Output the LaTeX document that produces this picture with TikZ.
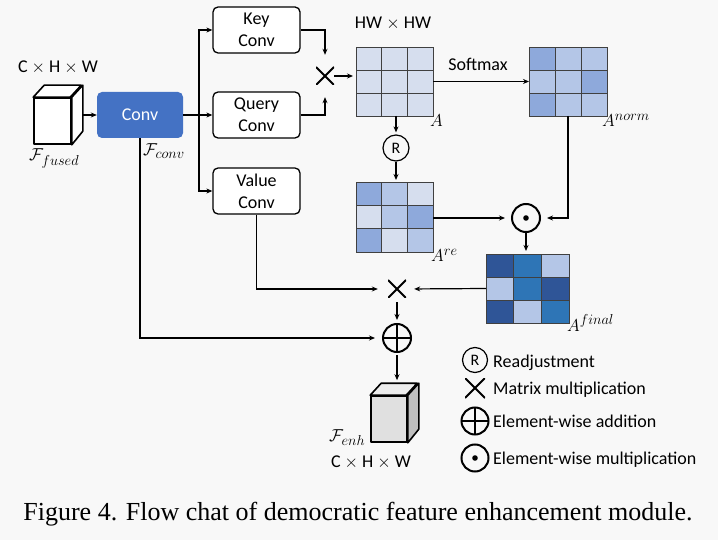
\documentclass[tikz,border=0pt]{standalone}
\usepackage{fontspec}
\setmainfont{Carlito}
\newfontfamily\capfont{Liberation Serif}
\DeclareMathSizes{17}{17}{13.5}{10}
\usetikzlibrary{arrows.meta,calc}
\definecolor{bgc}{HTML}{F8F8F8}
\definecolor{convblue}{HTML}{4472C4}
\definecolor{cL}{HTML}{D6DEEE}
\definecolor{cM}{HTML}{B4C6E7}
\definecolor{cD}{HTML}{8EA9DB}
\definecolor{fN}{HTML}{2F5597}
\definecolor{fB}{HTML}{2E75B6}
\definecolor{cellline}{HTML}{404040}
\newcommand\mymat[6]{%
  \node[minimum width=#4pt,minimum height=#5pt,inner sep=0pt,outer sep=0pt] (#1) at (#2,#3) {};
  \foreach \cc [count=\ii from 0] in {#6} {%
    \pgfmathtruncatemacro\mymr{\ii/3}%
    \pgfmathtruncatemacro\mymc{\ii-3*\mymr}%
    \filldraw[fill=\cc,draw=cellline,line width=0.9pt] ($(#1.north west)+(\mymc*#4/3,\mymr*#5/3)$) rectangle ++(#4/3,#5/3);
  }%
}
\begin{document}
\begin{tikzpicture}[x=1pt,y=-1pt,
  font=\fontsize{18}{22}\selectfont,
  box/.style={draw,rounded corners=5pt,minimum width=87pt,minimum height=46pt,line width=1.3pt,align=center,inner sep=0pt,fill=white},
  arr/.style={-{Stealth[length=6pt,width=5pt]},line width=1.2pt},
  ln/.style={line width=1.2pt},
  mlbl/.style={inner sep=0pt,anchor=base west,font=\fontsize{17}{20}\selectfont},
  mult/.style={minimum size=#1,inner sep=0pt,path picture={\draw[line width=1.8pt] (path picture bounding box.north west)--(path picture bounding box.south east) (path picture bounding box.north east)--(path picture bounding box.south west);}},
  oplusn/.style={circle,draw,line width=2pt,minimum size=#1,inner sep=0pt,path picture={\draw[line width=2pt] (path picture bounding box.north)--(path picture bounding box.south) (path picture bounding box.east)--(path picture bounding box.west);}},
  odotn/.style={circle,draw,line width=2pt,minimum size=#1,inner sep=0pt,path picture={\fill (path picture bounding box.center) circle (2.8pt);}},
  rnode/.style={circle,draw,line width=1.2pt,minimum size=#1,inner sep=0pt,font=\fontsize{16}{18}\selectfont},
  cube/.style={line width=1.6pt,line join=round}
]
\useasboundingbox (0,0) rectangle (718,540);
\fill[bgc] (0,0) rectangle (718,540);

% input cube
\node[draw,cube,fill=white,minimum width=37pt,minimum height=46pt,inner sep=0pt] (fused) at (52.5,121) {};
\filldraw[cube,fill=white] (fused.north west) -- ++(11,-12) -- ++(37,0) -- ++(-11,12) -- cycle;
\filldraw[cube,fill=white] (fused.north east) -- ++(11,-12) -- ++(0,46) -- (fused.south east) -- cycle;
\node (chw1) at (58,67) {C $\times$ H $\times$ W};
\node[mlbl] (ffused) at (29,161) {$\mathcal{F}_{fused}$};

% conv
\node[rounded corners=5pt,fill=convblue,minimum width=86pt,minimum height=46pt,text=white] (conv) at (140,115) {Conv};
\node[mlbl] (fconv) at (143,156) {$\mathcal{F}_{conv}$};
\draw[arr] ([xshift=11pt]conv.west -| fused.east) -- (conv.west);

% key/query/value
\node[box] (key) at (256.5,30) {Key\\Conv};
\node[box] (query) at (256.5,115) {Query\\Conv};
\node[box] (value) at (256.5,191) {Value\\Conv};
\coordinate (br) at (199,115);
\draw[ln] (conv.east) -- (br);
\draw[arr] (br) |- (key.west);
\draw[arr] (br) -- (query.west);
\draw[arr] (br) |- (value.west);

% first multiplication
\node[mult=18pt] (t1) at (325,76) {};
\draw[arr,shorten >=12pt] (key.east) -| (t1.north);
\draw[arr,shorten >=12pt] (query.east) -| (t1.south);

% matrices
\mymat{A}{394.5}{81.5}{77}{69}{cL,cL,cL,cL,cL,cL,cL,cL,cL}
\mymat{An}{568}{81.5}{78}{69}{cD,cM,cM,cM,cM,cD,cD,cM,cM}
\mymat{Ar}{394.5}{217}{77}{70}{cD,cM,cL,cL,cM,cD,cD,cL,cM}
\mymat{Af}{527.5}{288.5}{83}{69}{fN,fB,cM,cM,fB,fN,fN,cM,fB}
\node (hw) at (393,23) {HW $\times$ HW};
\node[mlbl] (Alab) at (430,127) {$A$};
\node[mlbl] (Anlab) at (602,127) {$A^{norm}$};
\node[mlbl] (Arlab) at (431,262) {$A^{re}$};
\node[mlbl] (Aflab) at (567,331) {$A^{final}$};

\draw[arr,shorten >=3pt] (t1.east) -- (t1.east -| A.west);
\draw[arr] (A.east) -- (An.west);
\node (soft) at (478,64) {Softmax};

\node[rnode=26pt] (R) at (396,148) {R};
\draw[arr,shorten >=2pt] (R.north |- A.south) -- (R.north);
\draw[arr,shorten >=2pt] (R.south) -- (R.south |- Ar.north);

\node[odotn=28pt] (od) at (526,218) {};
\draw[arr,shorten >=6pt] (Ar.east |- od.west) -- (od.west);
\draw[arr,shorten >=6pt] (An.south) |- (od.east);
\draw[arr,shorten >=3pt] (od.south) -- (od.south |- Af.north);

% second multiplication and addition
\node[mult=18pt] (t2) at (397,289) {};
\node[oplusn=28pt] (op) at (397,338) {};
\draw[arr,shorten >=8pt] (Af.west) -- (t2.east);
\draw[arr,shorten >=10pt] (value.south) |- (t2.west);
\draw[arr,shorten <=4pt,shorten >=3pt] (t2.south) -- (op.north);
\draw[arr,shorten >=7pt] (conv.south) |- (op.west);

% output cube
\node[draw,cube,fill=black!12,minimum width=36pt,minimum height=46pt,inner sep=0pt] (enh) at (389,419) {};
\filldraw[cube,fill=black!7] (enh.north west) -- ++(11,-12) -- ++(36,0) -- ++(-11,12) -- cycle;
\filldraw[cube,fill=black!25] (enh.north east) -- ++(11,-12) -- ++(0,46) -- (enh.south east) -- cycle;
\coordinate (enhtop) at ($(enh.north)+(0,-15)$);
\draw[arr,shorten <=2pt] (op.south) -- (op.south |- enhtop);
\node[mlbl] (fenh) at (329,441) {$\mathcal{F}_{enh}$};
\node (chw2) at (371,462) {C $\times$ H $\times$ W};

% legend
\node[rnode=25pt] (lR) at (475,360) {R};
\node[mult=20pt] (lX) at (475,388) {};
\node[oplusn=27pt] (lP) at (475,421) {};
\node[odotn=27pt] (lD) at (475,458) {};
\node[inner sep=0pt,anchor=base west] (tR) at (493,367) {Readjustment};
\node[inner sep=0pt,anchor=base west] (tX) at (493,394) {Matrix multiplication};
\node[inner sep=0pt,anchor=base west] (tP) at (493,427) {Element-wise addition};
\node[inner sep=0pt,anchor=base west] (tD) at (493,464) {Element-wise multiplication};

% caption
\node[font=\capfont\fontsize{26}{30}\selectfont] (cap) at (358,514) {Figure 4. Flow chat of democratic feature enhancement module.};
\end{tikzpicture}
\end{document}
